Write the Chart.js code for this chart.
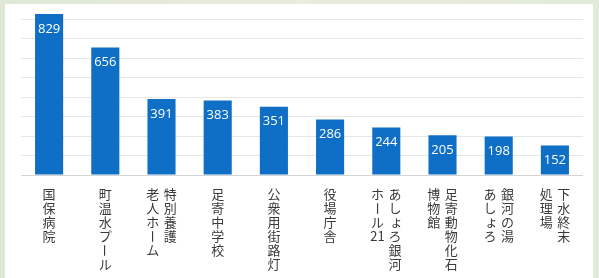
<!DOCTYPE html>
<html>
<head>
<meta charset="utf-8">
<script src="https://cdn.jsdelivr.net/npm/chart.js@4/dist/chart.umd.min.js"></script>
<style>
  html, body { margin: 0; padding: 0; background: #e4eadc; }
  #wrap { width: 599px; height: 278px; }
</style>
</head>
<body>
<div id="wrap"><canvas id="facilityChart"></canvas></div>
<script>
// Categories: each entry is a list of vertical columns, right to left
const facilityLabels = [
    ['国保病院'],
    ['町温水プール'],
    ['特別養護', '老人ホーム'],
    ['足寄中学校'],
    ['公衆用街路灯'],
    ['役場庁舎'],
    ['あしょろ銀河', 'ホール21'],
    ['足寄動物化石', '博物館'],
    ['銀河の湯', 'あしょろ'],
    ['下水終末', '処理場']
];
const facilityValues = [829, 656, 391, 383, 351, 286, 244, 205, 198, 152];

const barColor = '#0f6fc6';
const labelFont = "13px 'Noto Sans CJK JP', 'Noto Sans', sans-serif";

// Panel background behind the plot
const panelPlugin = {
    id: 'panel',
    beforeDraw(chart) {
        const ctx = chart.ctx;
        ctx.save();
        const g = ctx.createLinearGradient(0, 0, chart.width, 0);
        g.addColorStop(0, '#dfe8d6');
        g.addColorStop(0.5, '#ebebe0');
        g.addColorStop(1, '#e2eadb');
        ctx.fillStyle = g;
        ctx.fillRect(0, 0, chart.width, chart.height);
        ctx.fillStyle = '#ffffff';
        ctx.fillRect(5, 4, 588, chart.height - 4);
        ctx.restore();
    }
};

// Value labels inside bars and vertical category labels
const labelPlugin = {
    id: 'labels',
    afterDatasetsDraw(chart) {
        const ctx = chart.ctx;
        const meta = chart.getDatasetMeta(0);
        const xScale = chart.scales.x;
        ctx.save();
        ctx.textAlign = 'center';
        ctx.textBaseline = 'middle';

        ctx.fillStyle = '#ffffff';
        ctx.font = "13px 'Open Sans', sans-serif";
        meta.data.forEach((bar, i) => {
            ctx.fillText(String(facilityValues[i]), bar.x, bar.y + 15);
        });

        ctx.fillStyle = '#3a3a3a';
        ctx.font = labelFont;
        const colGap = 17.5;
        const charStep = 14;
        const top = chart.chartArea.bottom + 19.5;
        facilityLabels.forEach((cols, i) => {
            const cx = xScale.getPixelForValue(i);
            cols.forEach((text, c) => {
                const x = cx + ((cols.length - 1) / 2 - c) * colGap;
                const tokens = text.match(/[0-9]+|./g);
                tokens.forEach((t, k) => {
                    const y = top + k * charStep;
                    if (t === 'ー') {
                        ctx.save();
                        ctx.translate(x, y);
                        ctx.rotate(Math.PI / 2);
                        ctx.fillText(t, 0, 0);
                        ctx.restore();
                    } else if (t === 'ょ') {
                        ctx.fillText(t, x + 1.5, y - 1.5);
                    } else {
                        ctx.fillText(t, x, y);
                    }
                });
            });
        });
        ctx.restore();
    }
};

new Chart(document.getElementById('facilityChart'), {
    type: 'bar',
    data: {
        labels: facilityLabels.map(c => c.join('')),
        datasets: [{
            data: facilityValues,
            backgroundColor: barColor,
            borderWidth: 0,
            categoryPercentage: 1,
            barPercentage: 0.5
        }]
    },
    options: {
        responsive: true,
        maintainAspectRatio: false,
        animation: false,
        layout: {
            padding: { left: 21, right: 16, top: 4, bottom: 103 }
        },
        plugins: {
            legend: { display: false },
            tooltip: { enabled: false }
        },
        scales: {
            x: {
                display: false
            },
            y: {
                min: 0,
                max: 880,
                afterBuildTicks(scale) {
                    scale.ticks = scale.ticks.filter(t => t.value % 100 === 0);
                },
                ticks: { display: false, stepSize: 100 },
                grid: {
                    color: ctx => ctx.tick && ctx.tick.value === 0 ? '#d4d4d4' : '#e6e6e6',
                    lineWidth: 1,
                    drawTicks: false
                },
                border: { display: false }
            }
        }
    },
    plugins: [panelPlugin, labelPlugin]
});
</script>
</body>
</html>
